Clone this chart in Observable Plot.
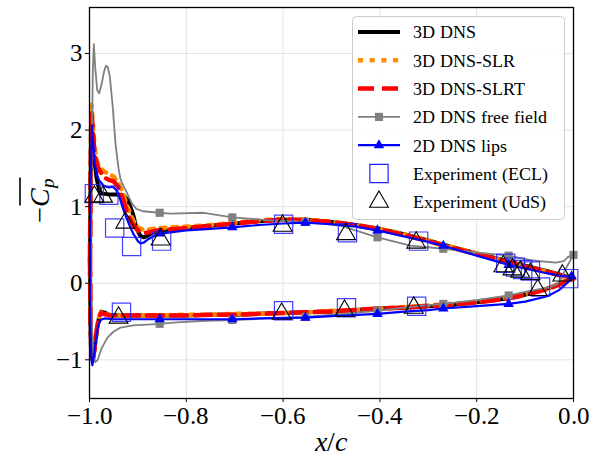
<!DOCTYPE html>
<html><head><meta charset="utf-8">
<script src="https://cdn.jsdelivr.net/npm/d3@7"></script>
<script src="https://cdn.jsdelivr.net/npm/@observablehq/plot@0.6"></script>
<style>
@font-face { font-family: "ChartSerif"; font-style: normal; font-weight: 400; src: local("Liberation Serif"), local("LiberationSerif"), local("LiberationSerif-Regular"), local("DejaVu Serif"), local("DejaVuSerif"); }
@font-face { font-family: "ChartSerif"; font-style: italic; font-weight: 400; src: local("Liberation Serif Italic"), local("LiberationSerif-Italic"), local("DejaVu Serif Italic"), local("DejaVuSerif-Italic"); }
html,body{margin:0;padding:0;background:#fff;}
#chart{position:relative;width:591px;height:460px;}
#chart text, #chart tspan{font-family:"ChartSerif","Liberation Serif","DejaVu Serif",serif;}
</style></head><body>
<div id="chart"></div>
<script>
const xTicks = [-1, -0.8, -0.6, -0.4, -0.2, 0];
const yTicks = [-1, 0, 1, 2, 3];

const seriesNames = ["3D DNS", "3D DNS-SLR", "3D DNS-SLRT", "2D DNS free field", "2D DNS lips", "Experiment (ECL)", "Experiment (UdS)"];

// 3D DNS (black)
const dnsUpper = [[-0.999,0.3],[-0.998,1.2],[-0.996,1.92],[-0.993,1.85],[-0.99,1.6],[-0.985,1.36],[-0.98,1.22],[-0.975,1.17],[-0.96,1.16],[-0.94,1.16],[-0.93,1.15],[-0.92,1.08],[-0.91,0.9],[-0.903,0.72],[-0.895,0.62],[-0.888,0.6],[-0.88,0.62],[-0.87,0.66],[-0.85,0.68],[-0.8,0.72],[-0.75,0.75],[-0.7,0.78],[-0.65,0.81],[-0.6,0.83],[-0.55,0.83],[-0.5,0.8],[-0.45,0.76],[-0.4,0.71],[-0.35,0.64],[-0.3,0.56],[-0.25,0.47],[-0.2,0.39],[-0.15,0.31],[-0.1,0.23],[-0.05,0.15],[-0.02,0.1],[0,0.07]];
const dnsLower = [[-0.999,0.3],[-0.998,-0.5],[-0.996,-0.95],[-0.993,-1.0],[-0.99,-0.88],[-0.985,-0.62],[-0.98,-0.44],[-0.976,-0.37],[-0.97,-0.38],[-0.96,-0.41],[-0.94,-0.42],[-0.9,-0.42],[-0.85,-0.42],[-0.8,-0.42],[-0.75,-0.41],[-0.7,-0.41],[-0.65,-0.4],[-0.6,-0.39],[-0.55,-0.38],[-0.5,-0.37],[-0.45,-0.35],[-0.4,-0.33],[-0.35,-0.32],[-0.3,-0.3],[-0.25,-0.28],[-0.2,-0.25],[-0.15,-0.21],[-0.12,-0.18],[-0.08,-0.12],[-0.05,-0.06],[-0.03,-0.01],[-0.015,0.04],[0,0.07]];

// 3D DNS-SLR (orange dotted)
const slrUpper = [[-0.999,0.3],[-0.998,1.3],[-0.996,2.33],[-0.993,2.1],[-0.99,1.8],[-0.985,1.6],[-0.98,1.52],[-0.97,1.46],[-0.96,1.43],[-0.95,1.39],[-0.94,1.31],[-0.93,1.16],[-0.92,0.97],[-0.91,0.82],[-0.9,0.73],[-0.89,0.7],[-0.88,0.7],[-0.86,0.72],[-0.8,0.74],[-0.75,0.76],[-0.7,0.79],[-0.65,0.82],[-0.6,0.84],[-0.55,0.83],[-0.5,0.8],[-0.45,0.76],[-0.4,0.71],[-0.35,0.64],[-0.3,0.56],[-0.25,0.47],[-0.2,0.39],[-0.15,0.3],[-0.1,0.22],[-0.05,0.14],[-0.02,0.09],[0,0.06]];
const slrLower = [[-0.999,0.3],[-0.998,-0.5],[-0.996,-0.93],[-0.993,-0.98],[-0.99,-0.86],[-0.985,-0.6],[-0.98,-0.43],[-0.976,-0.38],[-0.97,-0.39],[-0.96,-0.41],[-0.94,-0.42],[-0.9,-0.42],[-0.85,-0.42],[-0.8,-0.41],[-0.75,-0.41],[-0.7,-0.4],[-0.65,-0.4],[-0.6,-0.39],[-0.55,-0.38],[-0.5,-0.36],[-0.45,-0.35],[-0.4,-0.33],[-0.35,-0.31],[-0.3,-0.29],[-0.25,-0.27],[-0.2,-0.24],[-0.15,-0.2],[-0.12,-0.17],[-0.08,-0.12],[-0.05,-0.06],[-0.03,-0.01],[-0.015,0.04],[0,0.06]];

// 3D DNS-SLRT (red dashed)
const slrtUpper = [[-0.999,0.3],[-0.998,1.3],[-0.996,2.22],[-0.993,2.0],[-0.99,1.72],[-0.985,1.55],[-0.98,1.48],[-0.97,1.38],[-0.96,1.35],[-0.95,1.33],[-0.94,1.25],[-0.93,1.08],[-0.92,0.88],[-0.91,0.76],[-0.9,0.69],[-0.89,0.66],[-0.88,0.66],[-0.86,0.69],[-0.8,0.72],[-0.75,0.75],[-0.7,0.78],[-0.65,0.81],[-0.6,0.83],[-0.55,0.82],[-0.5,0.8],[-0.45,0.76],[-0.4,0.7],[-0.35,0.63],[-0.3,0.55],[-0.25,0.46],[-0.2,0.38],[-0.15,0.3],[-0.1,0.22],[-0.05,0.14],[-0.02,0.09],[0,0.06]];
const slrtLower = [[-0.999,0.3],[-0.998,-0.5],[-0.996,-0.94],[-0.993,-0.99],[-0.99,-0.87],[-0.985,-0.61],[-0.98,-0.44],[-0.976,-0.39],[-0.97,-0.4],[-0.96,-0.42],[-0.94,-0.42],[-0.9,-0.42],[-0.85,-0.42],[-0.8,-0.42],[-0.75,-0.41],[-0.7,-0.41],[-0.65,-0.4],[-0.6,-0.39],[-0.55,-0.38],[-0.5,-0.37],[-0.45,-0.35],[-0.4,-0.33],[-0.35,-0.32],[-0.3,-0.3],[-0.25,-0.28],[-0.2,-0.25],[-0.15,-0.21],[-0.12,-0.18],[-0.08,-0.12],[-0.05,-0.07],[-0.03,-0.02],[-0.015,0.03],[0,0.06]];

// 2D DNS free field (gray, square markers)
const ffUpper = [[-0.998,0.2],[-0.996,1.5],[-0.993,2.8],[-0.991,3.12],[-0.988,2.8],[-0.984,2.52],[-0.98,2.48],[-0.975,2.6],[-0.97,2.76],[-0.966,2.84],[-0.962,2.82],[-0.958,2.7],[-0.952,2.3],[-0.946,1.8],[-0.94,1.5],[-0.936,1.36],[-0.93,1.27],[-0.924,1.2],[-0.913,1.05],[-0.903,0.97],[-0.89,0.94],[-0.855,0.92],[-0.833,0.91],[-0.764,0.92],[-0.705,0.86],[-0.626,0.82],[-0.554,0.8],[-0.48,0.75],[-0.405,0.6],[-0.337,0.49],[-0.269,0.45],[-0.198,0.4],[-0.134,0.36],[-0.089,0.3],[-0.037,0.27],[-0.02,0.29],[-0.012,0.34],[0,0.37]];
const ffLower = [[-0.998,0.2],[-0.995,-0.6],[-0.992,-0.95],[-0.988,-1.03],[-0.983,-1.0],[-0.975,-0.85],[-0.963,-0.71],[-0.95,-0.63],[-0.936,-0.58],[-0.91,-0.55],[-0.88,-0.54],[-0.855,-0.53],[-0.82,-0.51],[-0.76,-0.49],[-0.705,-0.48],[-0.63,-0.46],[-0.554,-0.44],[-0.48,-0.4],[-0.405,-0.36],[-0.337,-0.31],[-0.269,-0.27],[-0.2,-0.22],[-0.134,-0.16],[-0.09,-0.1],[-0.048,-0.05],[-0.03,0.0],[-0.015,0.2],[0,0.37]];
const ffMarkers = [[-0.855,0.92],[-0.705,0.86],[-0.554,0.8],[-0.405,0.6],[-0.269,0.45],[-0.134,0.36],[0,0.37],[-0.855,-0.53],[-0.705,-0.48],[-0.554,-0.44],[-0.405,-0.36],[-0.269,-0.27],[-0.134,-0.16]];

// 2D DNS lips (blue, triangle markers)
const lipsUpper = [[-0.999,0.2],[-0.998,1.2],[-0.995,2.06],[-0.992,1.8],[-0.989,1.55],[-0.985,1.42],[-0.98,1.34],[-0.97,1.27],[-0.96,1.25],[-0.952,1.26],[-0.945,1.22],[-0.938,1.12],[-0.93,0.96],[-0.924,0.86],[-0.915,0.72],[-0.909,0.64],[-0.9,0.55],[-0.895,0.52],[-0.888,0.53],[-0.88,0.57],[-0.865,0.62],[-0.85,0.65],[-0.8,0.69],[-0.75,0.71],[-0.705,0.73],[-0.65,0.76],[-0.6,0.78],[-0.554,0.79],[-0.5,0.77],[-0.45,0.74],[-0.405,0.69],[-0.35,0.61],[-0.3,0.54],[-0.269,0.49],[-0.2,0.36],[-0.134,0.24],[-0.07,0.15],[-0.03,0.1],[0,0.08]];
const lipsLower = [[-0.999,0.2],[-0.998,-0.6],[-0.996,-1.0],[-0.994,-1.07],[-0.991,-0.95],[-0.987,-0.75],[-0.982,-0.55],[-0.977,-0.48],[-0.97,-0.46],[-0.95,-0.47],[-0.9,-0.47],[-0.855,-0.47],[-0.8,-0.47],[-0.705,-0.47],[-0.65,-0.46],[-0.554,-0.45],[-0.5,-0.43],[-0.405,-0.4],[-0.35,-0.37],[-0.3,-0.35],[-0.269,-0.33],[-0.2,-0.3],[-0.134,-0.27],[-0.1,-0.24],[-0.054,-0.17],[-0.03,-0.09],[-0.012,0.01],[0,0.08]];
const lipsMarkers = [[-0.855,0.65],[-0.705,0.73],[-0.554,0.79],[-0.405,0.69],[-0.269,0.49],[-0.134,0.24],[-0.004,0.09],[-0.855,-0.47],[-0.705,-0.47],[-0.554,-0.45],[-0.405,-0.4],[-0.269,-0.33],[-0.134,-0.27]];

// Experiments
const eclPoints = [[-0.99,1.17],[-0.96,1.15],[-0.948,0.72],[-0.913,0.48],[-0.851,0.55],[-0.599,0.77],[-0.467,0.66],[-0.32,0.55],[-0.14,0.26],[-0.12,0.21],[-0.105,0.18],[-0.089,0.16],[-0.01,0.06],[-0.934,-0.38],[-0.599,-0.36],[-0.469,-0.32],[-0.324,-0.3],[-0.068,-0.05]];
const udsPoints = [[-0.99,1.13],[-0.972,1.13],[-0.926,0.79],[-0.853,0.57],[-0.601,0.75],[-0.47,0.64],[-0.325,0.53],[-0.145,0.22],[-0.126,0.18],[-0.11,0.15],[-0.089,0.12],[-0.023,0.1],[-0.94,-0.45],[-0.603,-0.4],[-0.473,-0.36],[-0.33,-0.32],[-0.074,-0.09]];

const colors = {dns: "#000000", slr: "#ff8c00", slrt: "#ff0000", ff: "#808080", lips: "#0000ff"};
const SERIF = "ChartSerif, 'Liberation Serif', 'DejaVu Serif', serif";

function rows(upper, lower) {
  return upper.map(([x, y]) => ({x, y, s: "u"})).concat(lower.map(([x, y]) => ({x, y, s: "l"})));
}
const pts = (arr) => arr.map(([x, y]) => ({x, y}));

function draw() {
  const holder = document.getElementById("chart");
  holder.innerHTML = "";
  const chart = Plot.plot({
    width: 591, height: 460,
    marginLeft: 89, marginRight: 18, marginTop: 7, marginBottom: 62,
    style: {background: "#fff", color: "#000"},
    x: {domain: [-1, 0]},
    y: {domain: [-1.505, 3.6]},
    marks: [
      Plot.gridX(xTicks, {stroke: "#e3e3e3", strokeOpacity: 1, strokeWidth: 1}),
      Plot.gridY(yTicks, {stroke: "#e3e3e3", strokeOpacity: 1, strokeWidth: 1}),
      Plot.line(rows(dnsUpper, dnsLower), {x: "x", y: "y", z: "s", stroke: colors.dns, strokeWidth: 4}),
      Plot.line(rows(slrUpper, slrLower), {x: "x", y: "y", z: "s", stroke: colors.slr, strokeWidth: 4.5, strokeDasharray: "5,6.7"}),
      Plot.line(rows(slrtUpper, slrtLower), {x: "x", y: "y", z: "s", stroke: colors.slrt, strokeWidth: 4.5, strokeDasharray: "16,8"}),
      Plot.line(rows(ffUpper, ffLower), {x: "x", y: "y", z: "s", stroke: colors.ff, strokeWidth: 1.8}),
      Plot.dot(pts(ffMarkers), {x: "x", y: "y", symbol: "square", r: 4.6, fill: colors.ff, stroke: "none"}),
      Plot.line(rows(lipsUpper, lipsLower), {x: "x", y: "y", z: "s", stroke: colors.lips, strokeWidth: 2.2}),
      Plot.dot(pts(lipsMarkers), {x: "x", y: "y", symbol: "triangle", r: 3.9, fill: colors.lips, stroke: "none"}),
      Plot.dot(pts(eclPoints), {x: "x", y: "y", symbol: "square", r: 10.3, fill: "none", stroke: "#2020ff", strokeWidth: 1.2, strokeOpacity: 0.85}),
      Plot.dot(pts(udsPoints), {x: "x", y: "y", symbol: "triangle", r: 7, fill: "none", stroke: "#000", strokeWidth: 1.1}),
      Plot.frame({stroke: "#000", strokeWidth: 1.3}),
      Plot.axisX(xTicks, {tickSize: 4, tickPadding: 4, tickFormat: d3.format(".1f"), label: null, fontSize: 25, fontFamily: SERIF}),
      Plot.axisY(yTicks, {tickSize: 4, tickPadding: 3, tickFormat: d3.format("d"), label: null, fontSize: 25, fontFamily: SERIF})
    ]
  });
  holder.append(chart);
  const svg = d3.select(chart);

  // y label
  const ylg = svg.append("g").attr("transform", "translate(49,200) rotate(-90)").attr("font-family", SERIF);
  const yl = ylg.append("text").attr("text-anchor", "middle").attr("font-size", 28).attr("fill", "#000");
  yl.append("tspan").text("−");
  yl.append("tspan").attr("font-style", "italic").text("C");
  yl.append("tspan").attr("font-style", "italic").attr("font-size", 19).attr("dy", 5).text("p");

  // x label
  const xl = svg.append("text").attr("x", 331).attr("y", 451).attr("text-anchor", "middle")
    .attr("font-family", SERIF).attr("font-size", 28).attr("fill", "#000");
  xl.append("tspan").attr("font-style", "italic").text("x");
  xl.append("tspan").text("/");
  xl.append("tspan").attr("font-style", "italic").text("c");

  // legend
  const lg = svg.append("g").attr("font-size", 18).attr("font-family", SERIF).attr("text-anchor", "start");
  lg.append("rect").attr("x", 352.5).attr("y", 16.5).attr("width", 212).attr("height", 203).attr("rx", 4)
    .attr("fill", "#fff").attr("fill-opacity", 0.85).attr("stroke", "#cccccc").attr("stroke-width", 1);
  const legendItems = [
    {name: seriesNames[0], stroke: colors.dns, w: 4},
    {name: seriesNames[1], stroke: colors.slr, w: 4.5, dash: "5,6.7"},
    {name: seriesNames[2], stroke: colors.slrt, w: 4.5, dash: "16,8"},
    {name: seriesNames[3], stroke: colors.ff, w: 1.8, marker: "sq"},
    {name: seriesNames[4], stroke: colors.lips, w: 2.2, marker: "tri"},
    {name: seriesNames[5], open: "sq"},
    {name: seriesNames[6], open: "tri"}
  ];
  legendItems.forEach((d, i) => {
    const y = 32 + i * 28.3;
    if (d.stroke) {
      lg.append("line").attr("x1", 358).attr("x2", 400).attr("y1", y).attr("y2", y)
        .attr("stroke", d.stroke).attr("stroke-width", d.w).attr("stroke-dasharray", d.dash || null);
    }
    if (d.marker === "sq") {
      lg.append("path").attr("d", d3.symbol(d3.symbolSquare, Math.PI * 4.6 * 4.6)()).attr("transform", `translate(379,${y})`).attr("fill", colors.ff);
    }
    if (d.marker === "tri") {
      lg.append("path").attr("d", d3.symbol(d3.symbolTriangle, Math.PI * 3.9 * 3.9)()).attr("transform", `translate(379,${y})`).attr("fill", colors.lips);
    }
    if (d.open === "sq") {
      lg.append("path").attr("d", d3.symbol(d3.symbolSquare, Math.PI * 10.3 * 10.3)()).attr("transform", `translate(379,${y})`)
        .attr("fill", "none").attr("stroke", "#2020ff").attr("stroke-width", 1.2);
    }
    if (d.open === "tri") {
      lg.append("path").attr("d", d3.symbol(d3.symbolTriangle, Math.PI * 7 * 7)()).attr("transform", `translate(379,${y})`)
        .attr("fill", "none").attr("stroke", "#000").attr("stroke-width", 1.1);
    }
    lg.append("text").attr("x", 413).attr("y", y).attr("dy", "0.35em").attr("fill", "#000").text(d.name);
  });

  try {
    const c = yl.node().getExtentOfChar(1);
    const p = yl.node().getExtentOfChar(2);
    ylg.append("line").attr("x1", c.x + 1).attr("x2", p.x + p.width).attr("y1", c.y - 4).attr("y2", c.y - 4)
      .attr("stroke", "#000").attr("stroke-width", 1.6);
  } catch (e) {}
}

draw();
if (document.fonts && document.fonts.load) {
  Promise.all([
    document.fonts.load("25px ChartSerif", "−0.8"),
    document.fonts.load("italic 28px ChartSerif", "x/c")
  ]).then(draw).catch(() => {});
}
</script></body></html>
